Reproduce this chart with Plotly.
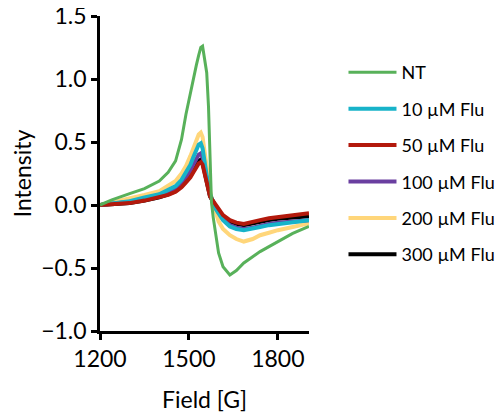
import plotly.graph_objects as go

# magnetic field (G)
field = [1200, 1240, 1300, 1350, 1400, 1430, 1455, 1475, 1490, 1505, 1515, 1525, 1533, 1540, 1546,
         1553, 1560, 1566, 1571, 1576, 1582, 1590, 1600, 1615, 1638, 1660, 1685, 1715, 1740, 1770,
         1800, 1850, 1905]

nt = [0.0, 0.04, 0.09, 0.13, 0.19, 0.26, 0.35, 0.52, 0.72, 0.90, 1.00, 1.11, 1.19, 1.25, 1.26,
      1.17, 1.05, 0.78, 0.35, 0.02, -0.10, -0.24, -0.38, -0.49, -0.555, -0.52, -0.46, -0.41, -0.37, -0.33,
      -0.29, -0.225, -0.17]
flu10 = [0.0, 0.01, 0.03, 0.06, 0.085, 0.12, 0.15, 0.20, 0.26, 0.32, 0.38, 0.44, 0.48, 0.49, 0.45,
         0.34, 0.22, 0.14, 0.09, 0.05, 0.02, -0.03, -0.07, -0.12, -0.17, -0.19, -0.20, -0.19, -0.175, -0.16,
         -0.15, -0.135, -0.12]
flu50 = [0.0, 0.005, 0.015, 0.035, 0.06, 0.08, 0.105, 0.14, 0.18, 0.22, 0.26, 0.30, 0.33, 0.34, 0.32,
         0.25, 0.17, 0.11, 0.07, 0.05, 0.03, -0.005, -0.04, -0.08, -0.12, -0.14, -0.15, -0.13, -0.12, -0.105,
         -0.095, -0.08, -0.065]
flu100 = [0.0, 0.01, 0.025, 0.05, 0.07, 0.10, 0.13, 0.17, 0.22, 0.27, 0.32, 0.37, 0.40, 0.41, 0.38,
          0.29, 0.19, 0.12, 0.08, 0.05, 0.02, -0.02, -0.06, -0.11, -0.16, -0.18, -0.19, -0.18, -0.165, -0.15,
          -0.14, -0.13, -0.12]
flu200 = [0.0, 0.02, 0.05, 0.08, 0.11, 0.15, 0.19, 0.25, 0.31, 0.39, 0.45, 0.51, 0.56, 0.575, 0.54,
          0.42, 0.28, 0.18, 0.11, 0.06, 0.01, -0.07, -0.13, -0.19, -0.24, -0.27, -0.29, -0.27, -0.24, -0.22,
          -0.20, -0.175, -0.145]
flu300 = [0.0, 0.005, 0.015, 0.035, 0.06, 0.085, 0.11, 0.15, 0.19, 0.23, 0.27, 0.31, 0.35, 0.36, 0.34,
          0.26, 0.18, 0.11, 0.07, 0.05, 0.03, -0.01, -0.05, -0.09, -0.13, -0.15, -0.16, -0.145, -0.13, -0.12,
          -0.11, -0.10, -0.09]

# (name, values, colour, width, legend rank) in drawing order, bottom to top
series = [
    ('200 µM Flu', flu200, '#ffd67a', 4, 5),
    ('300 µM Flu', flu300, '#000000', 4, 6),
    ('100 µM Flu', flu100, '#6a3fa0', 4, 4),
    ('10 µM Flu', flu10, '#17b3c9', 4, 2),
    ('50 µM Flu', flu50, '#b3190c', 4, 3),
    ('NT', nt, '#58b15a', 3, 1),
]

fig = go.Figure()
for name, vals, col, w, rank in series:
    fig.add_trace(go.Scatter(x=field, y=vals, mode='lines', name=name, legendrank=rank,
                             legendgroup=name, line=dict(color=col, width=w)))

axis_font = dict(family='Lato, Carlito, sans-serif', size=23, color='black')
# page body has an 8px margin, so the figure is 8px smaller than the window
fig.update_layout(
    template='none',
    width=495, height=411,
    margin=dict(l=92, r=194, t=8, b=88, autoexpand=False),
    plot_bgcolor='white', paper_bgcolor='white',
    font=axis_font,
    showlegend=True,
    legend=dict(x=1.165, y=0.879, xanchor='left', yanchor='top', traceorder='grouped',
                font=dict(family='Lato, Carlito, sans-serif', size=18, color='black'),
                tracegroupgap=10, itemwidth=48),
    xaxis=dict(range=[1200, 1905], tickvals=[1200, 1500, 1800], showgrid=False, zeroline=False,
               showline=True, linecolor='black', linewidth=2.5, ticks='outside', ticklen=6,
               tickwidth=2.5, tickcolor='black', tickfont=axis_font, automargin=False,
               ticklabeloverflow='allow',
               title=dict(text='Field [G]', font=axis_font, standoff=21)),
    yaxis=dict(range=[-1.0, 1.5], tickvals=[-1.0, -0.5, 0.0, 0.5, 1.0, 1.5], tickformat='.1f',
               showgrid=False, zeroline=False, showline=True, linecolor='black', linewidth=2.5,
               ticks='outside', ticklen=6, tickwidth=2.5, tickcolor='black', tickfont=axis_font,
               automargin=False, ticklabeloverflow='allow',
               title=dict(text='Intensity', font=axis_font, standoff=6)),
)

fig.write_html("out.html")
